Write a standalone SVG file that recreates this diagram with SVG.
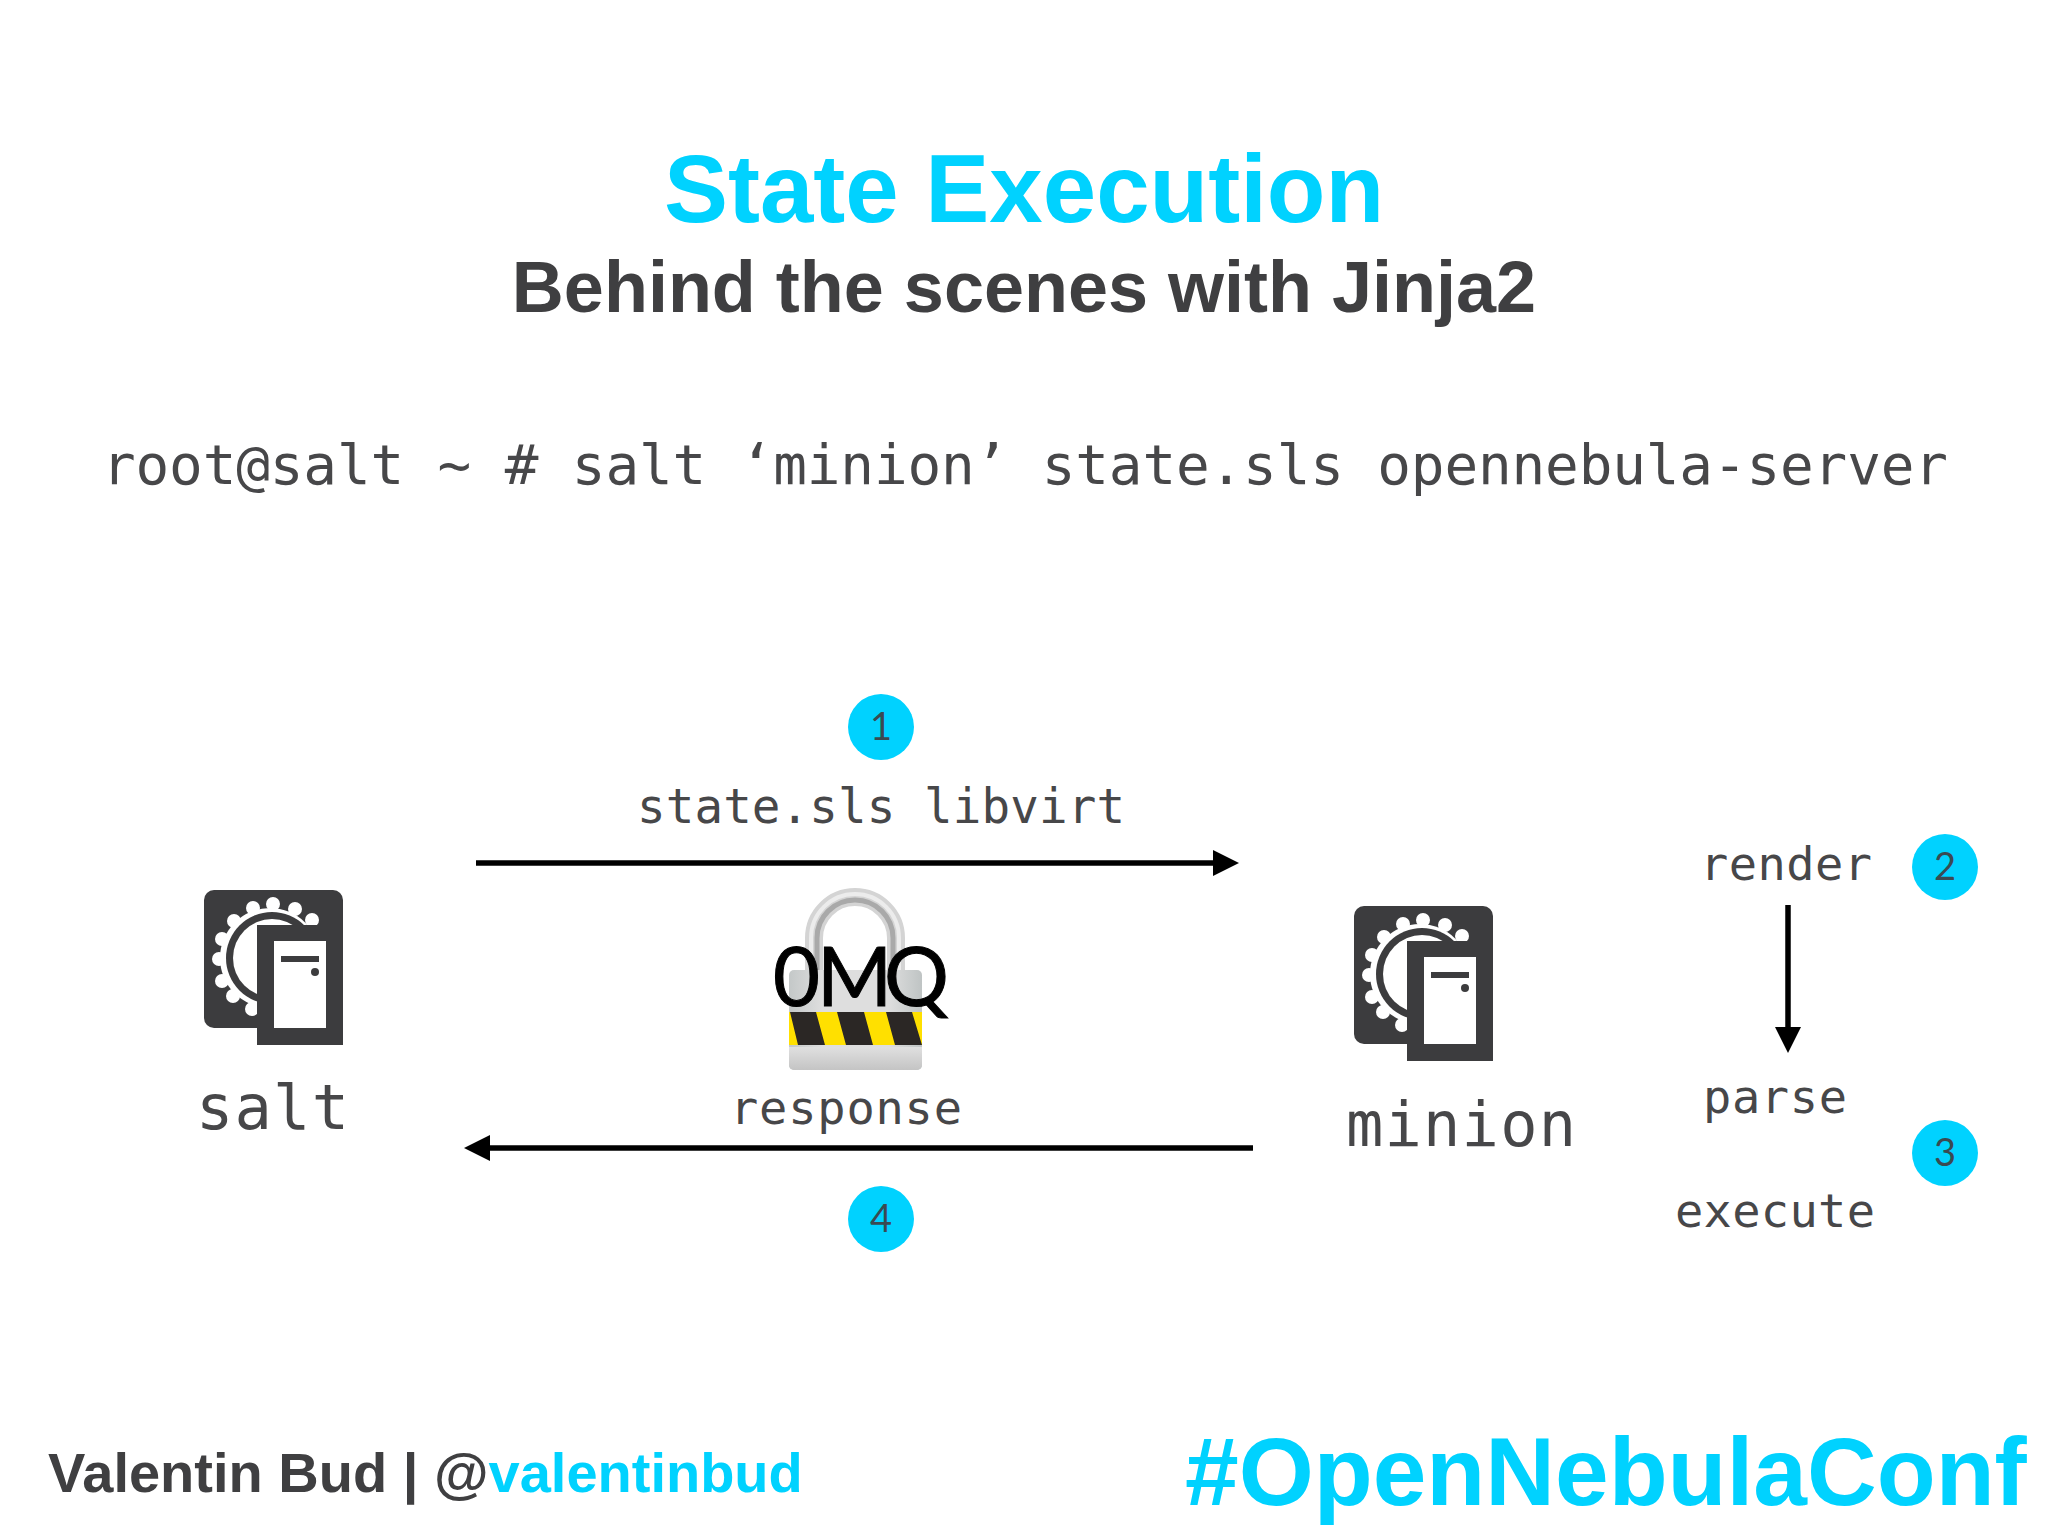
<svg xmlns="http://www.w3.org/2000/svg" width="2048" height="1536" viewBox="0 0 2048 1536">
<style>
.sans{font-family:"Liberation Sans",Arial,sans-serif;font-weight:700}
.mono{font-family:"DejaVu Sans Mono","Liberation Mono",monospace;fill:#474749}
.cy{fill:#00d2ff}
.dk{fill:#3f3f41}
.num{font-family:"Lato","Open Sans",sans-serif;font-weight:400;font-size:38px;fill:#3a4a52;text-anchor:middle}
.ln{stroke:#000;stroke-width:5.5;fill:none}
</style>
<defs>
<marker id="ah" markerUnits="userSpaceOnUse" markerWidth="28" markerHeight="28" refX="2" refY="13" orient="auto"><path d="M0 0L26 13L0 26Z" fill="#000"/></marker>
<linearGradient id="bd" x1="0" x2="1" y1="0" y2="0"><stop offset="0" stop-color="#c4c8c8"/><stop offset=".25" stop-color="#dedede"/><stop offset=".75" stop-color="#dedede"/><stop offset="1" stop-color="#bfc4c4"/></linearGradient>
<linearGradient id="bt" x1="0" x2="0" y1="0" y2="1"><stop offset="0" stop-color="#e0e0e0"/><stop offset="1" stop-color="#c4c4c4"/></linearGradient>
<g id="srv">
<rect x="204" y="890" width="139" height="138" rx="10" fill="#3c3c3e"/>
<circle cx="270" cy="958" r="50" fill="#fff"/>
<g fill="#fff"><circle cx="252" cy="1009" r="7"/><circle cx="233" cy="996" r="7"/><circle cx="222" cy="981" r="7"/><circle cx="219" cy="959" r="7"/><circle cx="222" cy="939" r="7"/><circle cx="234" cy="921" r="7"/><circle cx="253" cy="908" r="7"/><circle cx="273" cy="904" r="7"/><circle cx="295" cy="909" r="7"/><circle cx="312" cy="920" r="7"/></g>
<circle cx="272" cy="958" r="46" fill="#3c3c3e"/>
<circle cx="272" cy="958" r="39" fill="#fff"/>
<rect x="257" y="925" width="86" height="120" fill="#3c3c3e"/>
<rect x="274" y="941" width="52" height="87" fill="#fff"/>
<rect x="281" y="956" width="38" height="6" fill="#3c3c3e"/>
<circle cx="315" cy="972" r="4" fill="#3c3c3e"/>
</g>
</defs>
<rect width="2048" height="1536" fill="#fff"/>
<text class="sans cy" x="1024" y="222" font-size="96" text-anchor="middle">State Execution</text>
<text class="sans dk" x="1024" y="312" font-size="72" text-anchor="middle">Behind the scenes with Jinja2</text>
<text class="mono" x="102" y="484" font-size="56" textLength="1846">root@salt ~ # salt ‘minion’ state.sls opennebula-server</text>

<g id="connectors">
<line class="ln" x1="476" y1="863" x2="1215" y2="863" marker-end="url(#ah)"/>
<line class="ln" x1="1253" y1="1148" x2="488" y2="1148" marker-end="url(#ah)"/>
<line class="ln" x1="1788" y1="905" x2="1788" y2="1029" marker-end="url(#ah)"/>
</g>

<g id="node-salt">
<use href="#srv"/>
<text class="mono" x="196" y="1129" font-size="62" textLength="153">salt</text>
</g>
<g id="node-minion">
<use href="#srv" x="1150" y="16"/>
<text class="mono" x="1346" y="1146" font-size="62" textLength="230">minion</text>
</g>
<g id="lock">
<path d="M814 985V938a41 41 0 0 1 82 0V985" fill="none" stroke="#d4d4d4" stroke-width="18"/>
<path d="M817 985V938a38 38 0 0 1 76 0V985" fill="none" stroke="#a9a9a9" stroke-width="5"/>
<path d="M811 985V938a44 44 0 0 1 88 0V985" fill="none" stroke="#ececec" stroke-width="4"/>
<rect x="789" y="970" width="133" height="100" rx="5" fill="url(#bd)"/>
<rect x="789" y="1012" width="133" height="33" fill="#ffe000"/>
<path d="M790 1012H816L825 1045H798ZM837 1012H864L873 1045H846ZM886 1012H912L922 1045H895Z" fill="#2b2725"/>
<path d="M789 1047H922V1065a5 5 0 0 1-5 5H794a5 5 0 0 1-5-5Z" fill="url(#bt)"/>
<text y="1006" x="773 817 884" font-family="Lato,'Open Sans',sans-serif" font-size="81" fill="#000" stroke="#000" stroke-width="1">0MQ</text>
</g>
<text class="mono" x="637" y="823" font-size="47.5" textLength="488">state.sls libvirt</text>
<text class="mono" x="730" y="1124" font-size="47" textLength="232">response</text>
<text class="mono" x="1700" y="880" font-size="47" textLength="172">render</text>
<text class="mono" x="1703" y="1113" font-size="47" textLength="144">parse</text>
<text class="mono" x="1675" y="1227" font-size="47" textLength="200">execute</text>
<g id="step-1"><circle class="cy" cx="881" cy="727" r="33"/><text class="num" x="881" y="740">1</text></g>
<g id="step-2"><circle class="cy" cx="1945" cy="867" r="33"/><text class="num" x="1945" y="880">2</text></g>
<g id="step-3"><circle class="cy" cx="1945" cy="1153" r="33"/><text class="num" x="1945" y="1166">3</text></g>
<g id="step-4"><circle class="cy" cx="881" cy="1219" r="33"/><text class="num" x="881" y="1232">4</text></g>
<text class="sans dk" x="48" y="1492" font-size="56">Valentin Bud | @<tspan class="cy">valentinbud</tspan></text>
<text class="sans cy" x="1185" y="1505" font-size="96.5">#OpenNebulaConf</text>
</svg>
